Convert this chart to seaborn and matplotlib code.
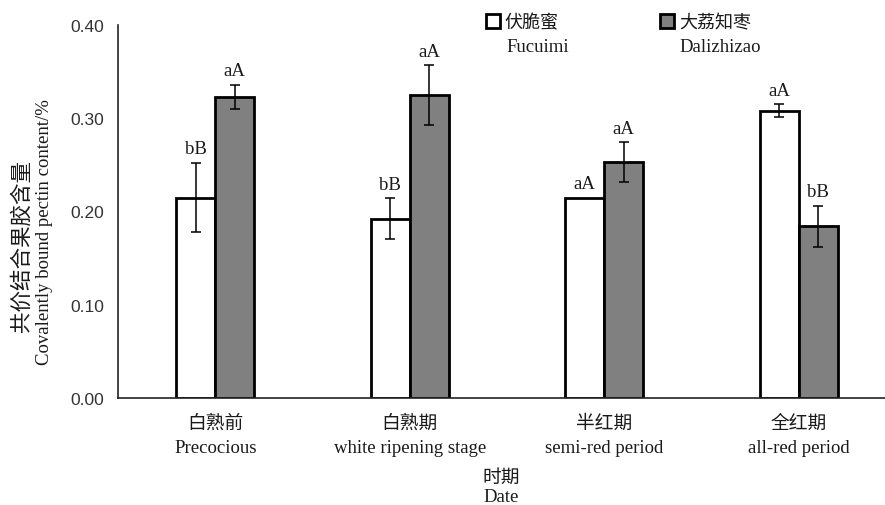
import numpy as np
import pandas as pd
import matplotlib
matplotlib.use("Agg")
import matplotlib.pyplot as plt
import seaborn as sns
from matplotlib import font_manager
from matplotlib.patches import Patch
from matplotlib.transforms import blended_transform_factory

# ---- data -------------------------------------------------------------
stages_cn = ["白熟前", "白熟期", "半红期", "全红期"]
stages_en = ["Precocious", "white ripening stage", "semi-red period", "all-red period"]
cultivars_cn = ["伏脆蜜", "大荔知枣"]
cultivars_en = ["Fucuimi", "Dalizhizao"]

fucuimi = [0.215, 0.192, 0.215, 0.308]
fucuimi_err = [0.037, 0.022, 0.0, 0.007]
dalizhizao = [0.323, 0.325, 0.253, 0.184]
dalizhizao_err = [0.013, 0.032, 0.021, 0.022]
fucuimi_sig = ["bB", "bB", "aA", "aA"]
dalizhizao_sig = ["aA", "aA", "aA", "bB"]

yticks = [0.0, 0.1, 0.2, 0.3, 0.4]
ytick_labels = ["0.00", "0.10", "0.20", "0.30", "0.40"]

df = pd.DataFrame({
    "stage": stages_cn * 2,
    "cultivar": [cultivars_cn[0]] * 4 + [cultivars_cn[1]] * 4,
    "value": fucuimi + dalizhizao,
})


def pick_font(*names):
    for n in names:
        try:
            font_manager.findfont(font_manager.FontProperties(family=n),
                                  fallback_to_default=False)
            return n
        except Exception:
            continue
    return "DejaVu Sans"


CJK = "Noto Sans CJK SC"
SERIF = pick_font("Liberation Serif", "DejaVu Serif")
NUM = pick_font("Liberation Sans Narrow", "Liberation Sans")
INK = "#1a1a1a"

sns.set_style("white")
plt.rcParams["font.family"] = [SERIF, CJK]

fig = plt.figure(figsize=(8.85, 5.06), dpi=100)
ax = fig.add_axes([118 / 885, 107 / 506, (896 - 118) / 885, 373 / 506])

sns.barplot(data=df, x="stage", y="value", hue="cultivar",
            order=stages_cn, hue_order=cultivars_cn,
            palette=["white", "#808080"], saturation=1,
            edgecolor="black", linewidth=2.0, width=0.4,
            errorbar=None, legend=False, ax=ax)

# error bars and significance letters
for cont, errs, sigs in zip(ax.containers,
                            [fucuimi_err, dalizhizao_err],
                            [fucuimi_sig, dalizhizao_sig]):
    for bar, e, s in zip(cont, errs, sigs):
        x = bar.get_x() + bar.get_width() / 2
        h = bar.get_height()
        if e > 0:
            ax.errorbar(x, h, yerr=e, fmt="none", ecolor="black",
                        elinewidth=1.1, capsize=3.3, capthick=1.1, zorder=5)
        ax.text(x, h + e + 0.006, s, ha="center", va="bottom",
                fontsize=13.5, family=SERIF, color=INK)

# axes styling
ax.set_xlim(-0.5, 3.5)
ax.set_ylim(0, 0.40)
ax.set_yticks(yticks)
ax.set_yticklabels(ytick_labels, family=NUM, fontsize=12.5)
ax.tick_params(axis="y", direction="in", length=6, width=1.1, pad=10,
               colors="#222222", labelcolor="#333333")
ax.set_xticks(range(4))
ax.set_xticklabels([])
ax.set_xticks([0.5, 1.5, 2.5], minor=True)
ax.tick_params(axis="x", which="major", length=0)
ax.tick_params(axis="x", which="minor", direction="in", length=6, width=1.1,
               colors="#222222")
ax.set_xlabel("")
ax.set_ylabel("")
for side in ["top", "right"]:
    ax.spines[side].set_visible(False)
for side in ["left", "bottom"]:
    ax.spines[side].set_color("#222222")
    ax.spines[side].set_linewidth(1.2)

# two-line category labels
tr = blended_transform_factory(ax.transData, fig.transFigure)
for i, (cn, en) in enumerate(zip(stages_cn, stages_en)):
    ax.text(i, 1 - 423 / 506, cn, transform=tr, ha="center", va="center",
            family=CJK, fontsize=13.5, color=INK)
    ax.text(i, 1 - 453 / 506, en, transform=tr, ha="center", va="baseline",
            family=SERIF, fontsize=13.5, color=INK)

# axis titles
fig.text(501 / 885, 1 - 477 / 506, "时期", ha="center", va="center",
         family=CJK, fontsize=13.5, color=INK)
fig.text(501 / 885, 1 - 502 / 506, "Date", ha="center", va="baseline",
         family=SERIF, fontsize=13.5, color=INK)
fig.text(22 / 885, 1 - 246 / 506, "共价结合果胶含量", rotation=90,
         ha="center", va="center", family=CJK, fontsize=15.5, color=INK)
fig.text(45 / 885, 1 - 232 / 506, "Covalently bound pectin content/%",
         rotation=90, ha="center", va="center", family=SERIF,
         fontsize=13.5, color=INK)

# legend
handles = [Patch(facecolor="white", edgecolor="black", linewidth=2.0),
           Patch(facecolor="#808080", edgecolor="black", linewidth=2.0)]
leg = ax.legend(handles, cultivars_cn, ncol=2, frameon=False,
                loc="upper left", bbox_to_anchor=(486 / 885, 1 - 14 / 506),
                bbox_transform=fig.transFigure, borderpad=0, borderaxespad=0,
                prop={"family": CJK, "size": 13},
                handlelength=0.75, handleheight=0.78, handletextpad=0.3,
                columnspacing=5.6)
for t in leg.get_texts():
    t.set_color(INK)
for name, xpx in zip(cultivars_en, [506, 679]):
    fig.text(xpx / 885, 1 - 47 / 506, name, ha="left", va="center",
             family=SERIF, fontsize=13.5, color=INK)

fig.savefig("out.png", dpi=100)
